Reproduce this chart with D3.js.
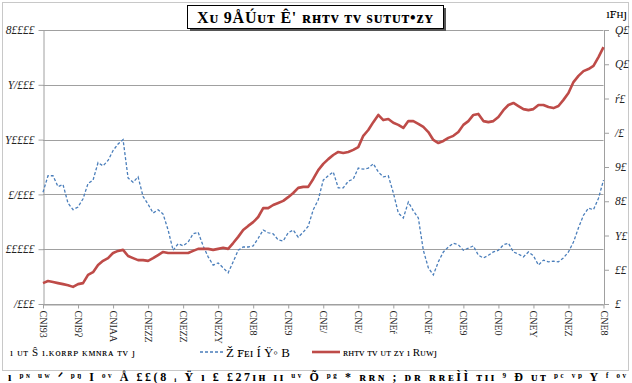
<!DOCTYPE html>
<html><head><meta charset="utf-8">
<script src="https://cdn.jsdelivr.net/npm/d3@7"></script>
<style>body{margin:0;background:#fff}svg{display:block}</style>
</head><body>
<svg id="c" width="632" height="383"></svg>
<script>
// ---- data ----
const xLabels = ["CNI93","CNI9ʔ","CNIAA","CNEZZ","CNEZZ","CNEZY","CNE8","CNE9","CNE/","CNE/","CNEŕ","CNEŕ","CNE9","CNE0","CNEY","CNEZ","CNE8"];
const leftTicks = [5000,10000,15000,20000,25000,30000];
const leftTickLabels = ["/£££","£££££","£/£££","Y££££","Y/£££","8££££"];
const rightTicks = [0,10,20,30,40,50,60,70,80];
const rightTickLabels = ["£","££","Y£","8£","9£","/£","ŕ£","Q£","Ǫ£"];
const seriesNames = ["Ž ꜰᴇɪ Í Ÿ◦ B","ʀʜᴛᴠ ᴛᴠ ᴜᴛ ᴢʏ ı Rᴜᴡȷ"];
const blueSeries = [15200,16700,16700,15700,15900,14200,13600,13850,14600,16000,16300,17900,17600,18100,19000,19600,20000,16500,16100,16600,14800,14100,13300,13600,13200,11750,9900,10500,10300,10650,11400,11550,10300,9300,8550,8750,8300,7850,8850,9900,10200,10200,10300,11000,11750,11500,11400,10850,10750,11500,11750,11100,11550,12100,13600,14500,16300,16700,17050,15600,15600,16200,16400,17400,17300,17400,17800,17050,16600,16700,15150,13300,12850,14300,13500,12850,9900,8300,7650,8850,9750,10200,10550,10400,9900,10100,10300,9450,9200,9450,9750,9900,10400,10550,9750,9550,9300,9750,9400,8550,9000,8850,8900,8850,9200,9750,10650,11950,13100,13750,13600,14650,16300];
const redSeries = [6.1,6.7,6.4,6.1,5.8,5.5,5.0,5.8,6.1,8.5,9.3,11.4,12.6,13.4,14.9,15.5,15.8,14.0,13.4,12.8,12.8,12.6,13.4,14.3,15.2,14.9,14.9,14.9,14.9,14.9,15.5,16.1,16.1,16.1,15.8,16.1,16.4,16.1,17.8,19.6,21.6,22.8,23.9,25.4,28.0,28.0,28.9,29.5,30.1,31.2,32.4,33.9,34.2,34.2,36.5,39.1,40.9,42.3,43.5,44.4,44.1,44.4,45.0,45.8,49.1,50.8,53.1,55.2,53.7,54.0,52.9,52.3,51.4,53.4,53.4,52.6,51.7,50.2,47.9,47.0,47.6,48.5,49.1,50.2,52.3,53.4,55.2,55.5,53.4,53.1,53.4,54.6,56.6,58.1,58.7,57.8,56.9,56.6,56.9,58.1,58.1,57.5,57.2,57.8,59.6,61.6,64.8,66.6,68.0,68.6,69.5,72.1,75.0];
const titleText = "Xᴜ  9ÅÚᴜᴛ Ê' ʀʜᴛᴠ ᴛᴠ ѕᴜᴛᴜᴛ•ᴢʏ";
const rightUnit = "ıꜰʜȷ";
const legendLead = "ı ᴜᴛ Ŝ ı.ᴋᴏʀʀᴘ ᴋᴍɴʀᴀ ᴛᴠ ȷ";
const footerText = "ı ᵖᶰ ᵘʷ  ᐟ ᵖᵑ I  ᵒᵛ Å  ££(8 ᵢ  Ÿ  ı ₤  £27ɪʜ  ɪɪ          ᵘᵛ Õ ᵖᵍ  * ʀʀɴ ;  ᴅʀ ʀʀᴇÌÌ ᴛɪɪ  ⁹  Ð ᴜᴛ ᵖᶜ ᵛᵖ Y ᶠ ᵒᵛ";

// ---- layout ----
const svg = d3.select("#c");
const X0 = 43, X1 = 603.5, Y0 = 304, Y1 = 30;
const idx = d3.range(blueSeries.length);
const x = d3.scaleLinear().domain([0, blueSeries.length - 1]).range([X0, X1]);
const yL = d3.scaleLinear().domain([5000, 30000]).range([Y0, Y1]);
const yR = d3.scaleLinear().domain([0, 80]).range([Y0, Y1]);
const font = "'Liberation Serif', 'DejaVu Serif', serif";
const gray = "#a0a0a0";

// frame
svg.append("rect").attr("x", 2.5).attr("y", 2.5).attr("width", 626).attr("height", 368)
  .attr("fill", "none").attr("stroke", "#c8c8c8");

// gridlines
svg.append("g").selectAll("line").data(leftTicks).join("line")
  .attr("x1", X0).attr("x2", X1).attr("y1", d => Math.round(yL(d)) + 0.5).attr("y2", d => Math.round(yL(d)) + 0.5)
  .attr("stroke", gray).attr("stroke-width", 1);

// left axis
const gl = svg.append("g").attr("transform", `translate(${X0 + 0.5},0)`)
  .call(d3.axisLeft(yL).tickValues(leftTicks).tickFormat((d, i) => leftTickLabels[i]).tickSize(5).tickSizeOuter(0));
gl.select(".domain").attr("stroke", gray);
gl.selectAll(".tick line").attr("stroke", gray);
gl.selectAll("text").attr("font-family", font).attr("font-size", 11.5).attr("font-style", "italic").attr("fill", "#222").attr("dx", "-1");

// right axis
const gr = svg.append("g").attr("transform", `translate(${X1 + 0.5},0)`)
  .call(d3.axisRight(yR).tickValues(rightTicks).tickFormat((d, i) => rightTickLabels[i]).tickSize(5).tickSizeOuter(0));
gr.select(".domain").attr("stroke", gray);
gr.selectAll(".tick line").attr("stroke", gray);
gr.selectAll("text").attr("font-family", font).attr("font-size", 11.5).attr("font-style", "italic").attr("fill", "#222").attr("dx", "3");

// bottom axis
const labelIdx = xLabels.map((d, i) => i * 7);
const gb = svg.append("g").attr("transform", `translate(0,${Y0 + 0.5})`)
  .call(d3.axisBottom(x).tickValues(labelIdx).tickFormat((d, i) => xLabels[i]).tickSize(4).tickSizeOuter(0));
gb.select(".domain").attr("stroke", gray);
gb.selectAll(".tick line").attr("stroke", gray);
gb.selectAll("text").attr("font-family", font).attr("font-size", 10).attr("fill", "#222")
  .attr("transform", "rotate(90)").attr("text-anchor", "start").attr("x", 6).attr("y", 0).attr("dy", "0.35em");

// lines
svg.append("path").datum(idx)
  .attr("d", d3.line().x(i => x(i)).y(i => yL(blueSeries[i])))
  .attr("fill", "none").attr("stroke", "#4a7ebb").attr("stroke-width", 1.3).attr("stroke-dasharray", "3,2");
svg.append("path").datum(idx)
  .attr("d", d3.line().x(i => x(i)).y(i => yR(redSeries[i])))
  .attr("fill", "none").attr("stroke", "#be4b48").attr("stroke-width", 2.6).attr("stroke-linejoin", "round");

// title box
svg.append("rect").attr("x", 190).attr("y", 8).attr("width", 256).attr("height", 23).attr("fill", "#555");
svg.append("rect").attr("x", 187.5).attr("y", 5.5).attr("width", 256).attr("height", 23).attr("fill", "#fff").attr("stroke", "#000");
svg.append("text").attr("x", 315).attr("y", 23).attr("text-anchor", "middle")
  .attr("font-family", font).attr("font-weight", "bold").attr("font-size", 16).attr("fill", "#000")
  .attr("textLength", 236).text(titleText);

// right unit label
svg.append("text").attr("x", 627).attr("y", 18).attr("text-anchor", "end")
  .attr("font-family", font).attr("font-size", 13).attr("fill", "#000").text(rightUnit);

// legend
const ly = 352;
svg.append("text").attr("x", 10).attr("y", ly + 4).attr("font-family", font).attr("font-size", 11).attr("fill", "#000")
  .attr("textLength", 125).text(legendLead);
svg.append("line").attr("x1", 200).attr("x2", 224).attr("y1", ly).attr("y2", ly)
  .attr("stroke", "#4a7ebb").attr("stroke-width", 1.3).attr("stroke-dasharray", "3,2");
svg.append("text").attr("x", 226).attr("y", ly + 5).attr("font-family", font).attr("font-size", 13).attr("fill", "#000").text(seriesNames[0]);
svg.append("line").attr("x1", 312).attr("x2", 340).attr("y1", ly).attr("y2", ly)
  .attr("stroke", "#be4b48").attr("stroke-width", 2.6);
svg.append("text").attr("x", 343).attr("y", ly + 4).attr("font-family", font).attr("font-size", 11).attr("fill", "#000").text(seriesNames[1]);

// footer
svg.append("text").attr("x", 8).attr("y", 381).attr("font-family", font).attr("font-weight", "bold").attr("font-size", 12)
  .attr("fill", "#000").attr("textLength", 618).text(footerText);
</script>
</body></html>
